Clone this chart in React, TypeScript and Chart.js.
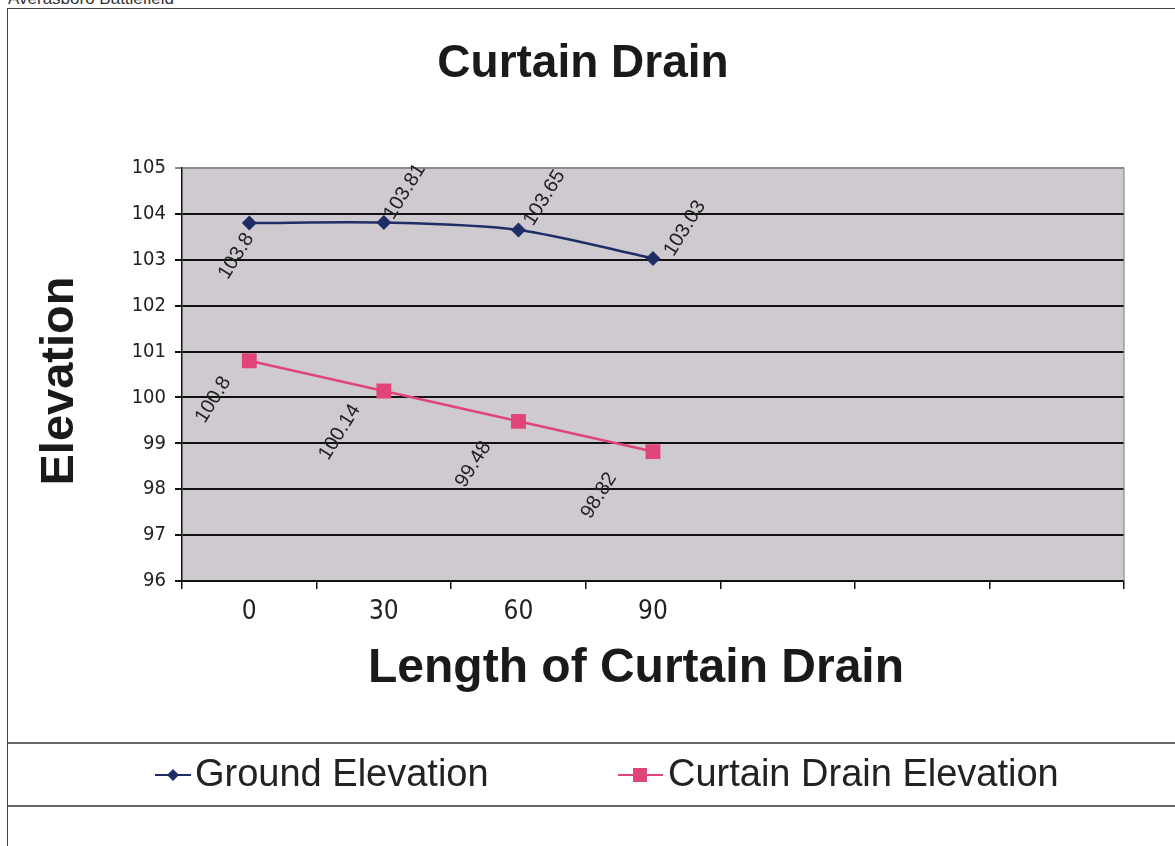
import { useEffect, useRef } from 'react';
import { Chart, registerables } from 'chart.js';
Chart.register(...registerables);

const categories = ['0', '30', '60', '90', '', '', ''];
const groundElevation = [103.8, 103.81, 103.65, 103.03];
const curtainDrainElevation = [100.8, 100.14, 99.48, 98.82];
const seriesNames = ['Ground Elevation', 'Curtain Drain Elevation'];
const yMin = 96;
const yMax = 105;
const yStep = 1;
const chartTitle = 'Curtain Drain';
const xTitle = 'Length of Curtain Drain';
const yTitle = 'Elevation';
const pageHeader = 'Averasboro Battlefield';

const SANS = "'Liberation Sans', Arial, 'Noto Sans', sans-serif";
const NARROW = "'Liberation Sans Narrow', 'Arial Narrow', 'DejaVu Sans Condensed', 'Liberation Sans', sans-serif";

const GROUND_COLOR = '#1f2d66';
const DRAIN_COLOR = '#e0457a';

// label centre offsets relative to each point (style only)
const labelOffsets = [
  [[-13, 33], [21, -31], [26, -32], [32, -30]],
  [[-36, 39], [-44, 41], [-45, 43], [-54, 44]],
];

const decorPlugin = {
  id: 'decor',
  beforeDraw(chart: any) {
    const { ctx, chartArea: a } = chart;
    ctx.save();
    ctx.fillStyle = '#cecad0';
    ctx.fillRect(a.left, a.top, a.right - a.left, a.bottom - a.top);
    ctx.restore();
  },
  beforeDatasetsDraw(chart: any) {
    const { ctx, chartArea: a } = chart;
    ctx.save();
    ctx.strokeStyle = '#8a8a8a';
    ctx.lineWidth = 1.2;
    ctx.beginPath();
    ctx.moveTo(a.left, a.top);
    ctx.lineTo(a.right, a.top);
    ctx.lineTo(a.right, a.bottom);
    ctx.stroke();
    ctx.restore();
  },
  afterDatasetsDraw(chart: any) {
    const { ctx } = chart;
    ctx.save();
    ctx.fillStyle = '#222';
    ctx.font = `20px ${SANS}`;
    ctx.textAlign = 'center';
    ctx.textBaseline = 'middle';
    chart.data.datasets.forEach((ds: any, di: number) => {
      const meta = chart.getDatasetMeta(di);
      meta.data.forEach((pt: any, i: number) => {
        const off = labelOffsets[di][i];
        ctx.save();
        ctx.translate(pt.x + off[0], pt.y + off[1]);
        ctx.rotate((-58 * Math.PI) / 180);
        ctx.fillText(String(ds.data[i]), 0, 0);
        ctx.restore();
      });
    });
    ctx.restore();
  },
  afterDraw(chart: any) {
    const { ctx } = chart;
    ctx.save();
    ctx.fillStyle = '#1a1a1a';
    ctx.textAlign = 'center';
    ctx.textBaseline = 'middle';
    ctx.font = `bold 46px ${SANS}`;
    ctx.fillText(chartTitle, 575, 55);
    ctx.font = `bold 48px ${SANS}`;
    ctx.fillText(xTitle, 628, 660);
    ctx.save();
    ctx.translate(52, 372);
    ctx.rotate(-Math.PI / 2);
    ctx.font = `bold 47px ${SANS}`;
    ctx.fillText(yTitle, 0, 0);
    ctx.restore();

    // legend box
    ctx.strokeStyle = '#333';
    ctx.lineWidth = 1.5;
    ctx.strokeRect(-1, 734, 1200, 63);
    const ly = 766;
    ctx.textAlign = 'left';
    ctx.font = `38px ${SANS}`;
    // ground
    ctx.strokeStyle = GROUND_COLOR;
    ctx.lineWidth = 2;
    ctx.beginPath();
    ctx.moveTo(147, ly);
    ctx.lineTo(183, ly);
    ctx.stroke();
    ctx.fillStyle = GROUND_COLOR;
    ctx.beginPath();
    ctx.moveTo(165, ly - 6);
    ctx.lineTo(171, ly);
    ctx.lineTo(165, ly + 6);
    ctx.lineTo(159, ly);
    ctx.closePath();
    ctx.fill();
    ctx.fillStyle = '#222';
    ctx.fillText(seriesNames[0], 187, ly + 1);
    // drain
    ctx.strokeStyle = DRAIN_COLOR;
    ctx.beginPath();
    ctx.moveTo(610, ly);
    ctx.lineTo(655, ly);
    ctx.stroke();
    ctx.fillStyle = DRAIN_COLOR;
    ctx.fillRect(625, ly - 7, 14, 14);
    ctx.fillStyle = '#222';
    ctx.fillText(seriesNames[1], 660, ly + 1);
    ctx.restore();
  },
};

export default function App() {
  const ref = useRef<HTMLCanvasElement | null>(null);
  useEffect(() => {
    if (!ref.current) return;
    const chart = new Chart(ref.current, {
      type: 'line',
      data: {
        labels: categories,
        datasets: [
          {
            label: seriesNames[0],
            data: groundElevation,
            borderColor: GROUND_COLOR,
            backgroundColor: GROUND_COLOR,
            borderWidth: 2.5,
            pointStyle: 'rectRot',
            pointRadius: 7.5,
            pointBorderWidth: 0,
            tension: 0.3,
          },
          {
            label: seriesNames[1],
            data: curtainDrainElevation,
            borderColor: DRAIN_COLOR,
            backgroundColor: DRAIN_COLOR,
            borderWidth: 2.5,
            pointStyle: 'rect',
            pointRadius: 10.5,
            pointBorderWidth: 0,
            tension: 0,
          },
        ],
      },
      options: {
        responsive: false,
        animation: false,
        devicePixelRatio: 1,
        layout: { padding: { left: 114, right: 51, top: 159, bottom: 215 } },
        plugins: {
          legend: { display: false },
          title: { display: false },
          tooltip: { enabled: false },
        },
        scales: {
          x: {
            type: 'category',
            offset: true,
            afterFit: (s: any) => { s.height = 50; },
            grid: {
              offset: true,
              drawOnChartArea: false,
              tickLength: 8,
              color: '#111',
              lineWidth: 1.5,
            },
            border: { color: '#111', width: 1.5 },
            ticks: {
              color: '#222',
              font: { family: NARROW, size: 26 },
              padding: 8,
              autoSkip: false,
              maxRotation: 0,
            },
          },
          y: {
            min: yMin,
            max: yMax,
            afterFit: (s: any) => { s.width = 60; },
            grid: {
              color: (c: any) => (c.tick && c.tick.value === yMax ? '#8a8a8a' : '#111'),
              lineWidth: 2,
              tickLength: 7,
            },
            border: { color: '#111', width: 1.5 },
            ticks: {
              stepSize: yStep,
              color: '#222',
              font: { family: NARROW, size: 20 },
              padding: 9,
            },
          },
        },
      },
      plugins: [decorPlugin],
    } as any);
    return () => chart.destroy();
  }, []);

  return (
    <div style={{ position: 'fixed', inset: 0, overflow: 'hidden', background: '#fff' }}>
      <div
        style={{
          position: 'absolute',
          left: 8,
          top: -11,
          font: `17px ${SANS}`,
          color: '#333',
          whiteSpace: 'nowrap',
        }}
      >
        {pageHeader}
      </div>
      <div
        style={{
          position: 'absolute',
          left: 7,
          top: 8,
          width: 1250,
          height: 900,
          border: '1.5px solid #444',
          boxSizing: 'border-box',
        }}
      />
      <canvas
        ref={ref}
        width={1167}
        height={837}
        style={{ position: 'absolute', left: 8, top: 9, width: 1167, height: 837 }}
      />
    </div>
  );
}
